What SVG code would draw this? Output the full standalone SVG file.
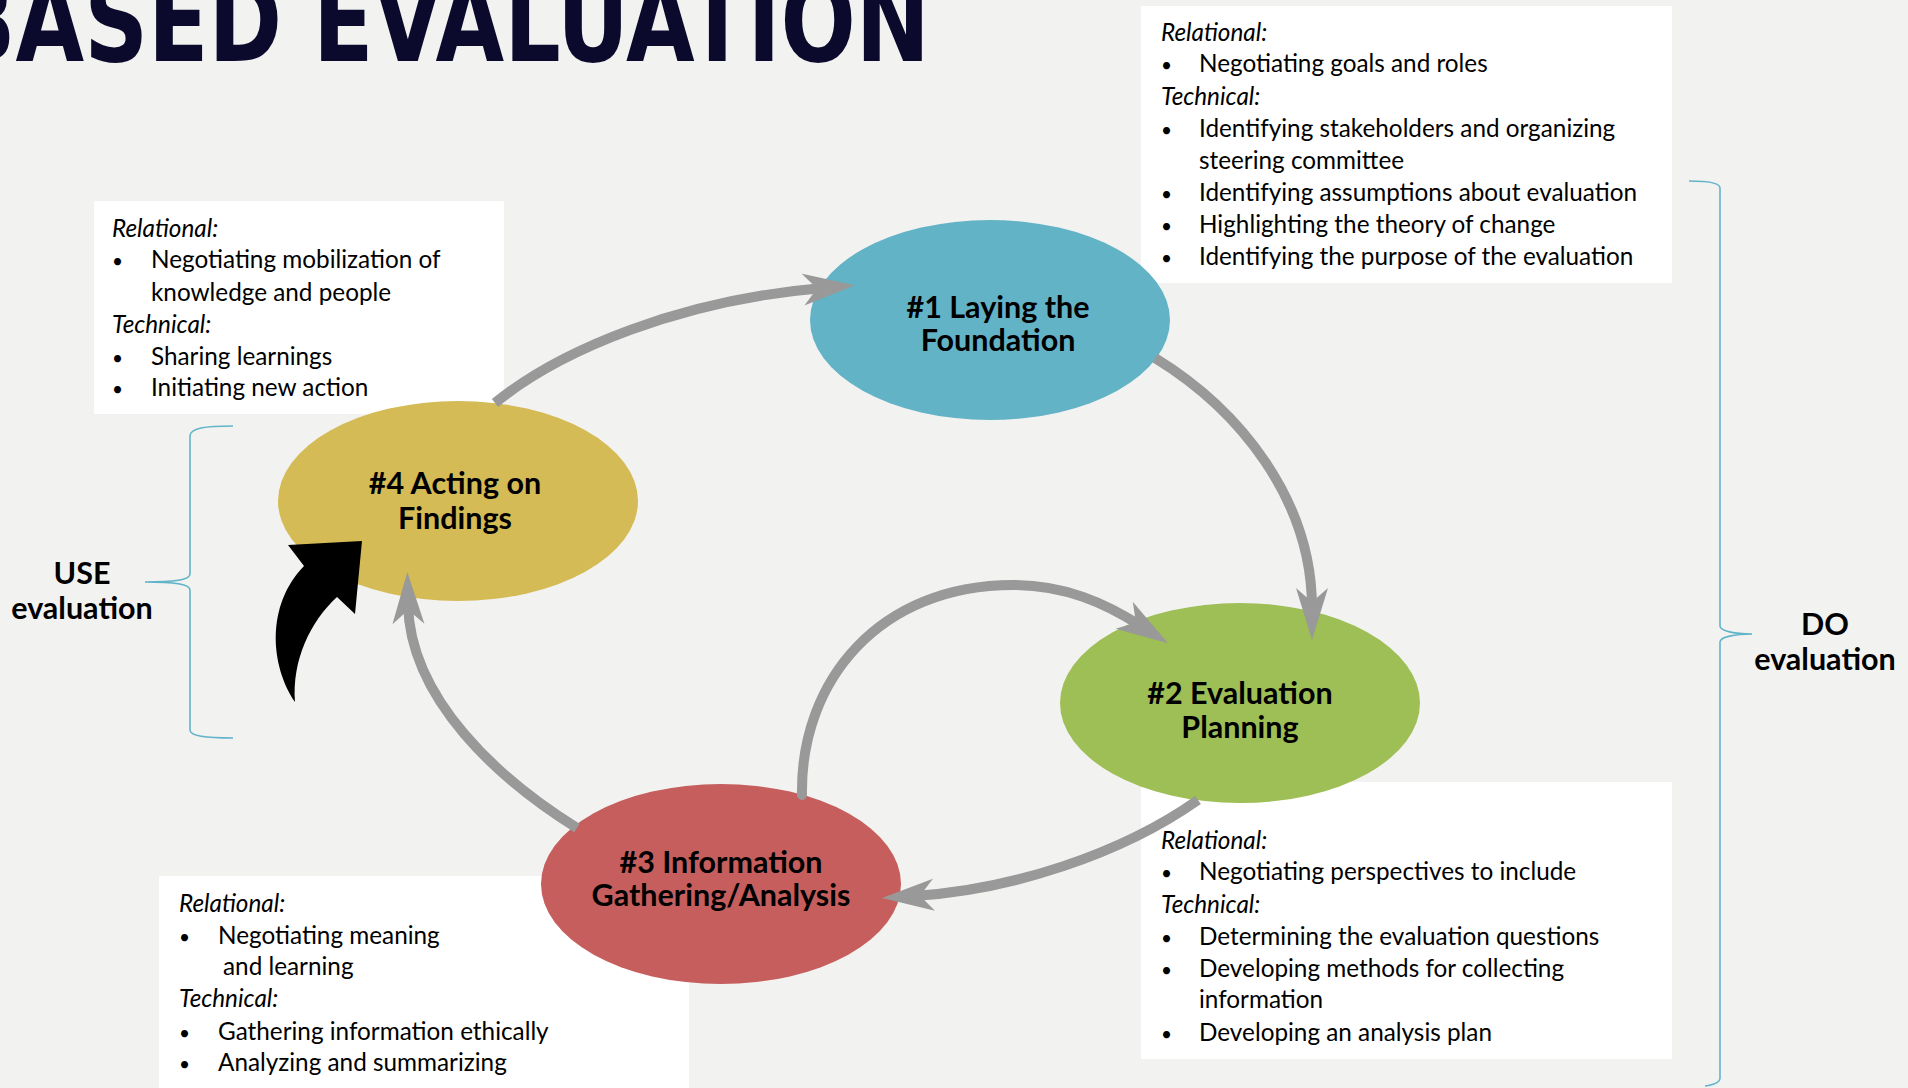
<svg xmlns="http://www.w3.org/2000/svg" width="1908" height="1088" viewBox="0 0 1908 1088">
<defs>
<style>
.bg{fill:#f2f2f1}
.box{fill:#ffffff}
.t{font-family:Lato,"Liberation Sans",sans-serif;font-size:24.3px;fill:#000}
.b{font-size:19px}
.h{font-style:italic}
.lbl{font-family:Lato,"Liberation Sans",sans-serif;font-size:30.5px;font-weight:bold;fill:#000;text-anchor:middle}
.conn{fill:none;stroke:#999999;stroke-width:10}
.brace{fill:none;stroke:#62b4c9;stroke-width:1.6}
.title{font-family:"Liberation Sans Narrow","DejaVu Sans Condensed",sans-serif;font-weight:bold;font-size:114px;fill:#0b0a2d}
</style>
<marker id="ah" markerUnits="userSpaceOnUse" viewBox="0 -18 54 36" markerWidth="54" markerHeight="36" refX="20" refY="0" orient="auto">
<path d="M0,-16 L52,0 L0,16 L14,0 Z" fill="#999999"/>
</marker>
</defs>
<rect class="bg" x="0" y="0" width="1908" height="1088"/>
<text class="title" x="-52" y="61" textLength="982" lengthAdjust="spacingAndGlyphs">BASED EVALUATION</text>

<g id="box-do-foundation">
<rect class="box" x="1141" y="6" width="531" height="277"/>
<text class="t h" x="1161" y="41">Relational:</text>
<text class="t b" x="1161" y="72">•</text><text class="t" x="1199" y="72">Negotiating goals and roles</text>
<text class="t h" x="1161" y="105">Technical:</text>
<text class="t b" x="1161" y="137">•</text><text class="t" x="1199" y="137">Identifying stakeholders and organizing</text>
<text class="t" x="1199" y="169">steering committee</text>
<text class="t b" x="1161" y="201">•</text><text class="t" x="1199" y="201">Identifying assumptions about evaluation</text>
<text class="t b" x="1161" y="233">•</text><text class="t" x="1199" y="233">Highlighting the theory of change</text>
<text class="t b" x="1161" y="265">•</text><text class="t" x="1199" y="265">Identifying the purpose of the evaluation</text>
</g>

<g id="box-use">
<rect class="box" x="94" y="201" width="410" height="213"/>
<text class="t h" x="112" y="237">Relational:</text>
<text class="t b" x="112" y="268">•</text><text class="t" x="151" y="268">Negotiating mobilization of</text>
<text class="t" x="151" y="301">knowledge and people</text>
<text class="t h" x="112" y="333">Technical:</text>
<text class="t b" x="112" y="365">•</text><text class="t" x="151" y="365">Sharing learnings</text>
<text class="t b" x="112" y="396">•</text><text class="t" x="151" y="396">Initiating new action</text>
</g>

<g id="box-planning">
<rect class="box" x="1141" y="782" width="531" height="277"/>
<text class="t h" x="1161" y="849">Relational:</text>
<text class="t b" x="1161" y="880">•</text><text class="t" x="1199" y="880">Negotiating perspectives to include</text>
<text class="t h" x="1161" y="913">Technical:</text>
<text class="t b" x="1161" y="945">•</text><text class="t" x="1199" y="945">Determining the evaluation questions</text>
<text class="t b" x="1161" y="977">•</text><text class="t" x="1199" y="977">Developing methods for collecting</text>
<text class="t" x="1199" y="1008">information</text>
<text class="t b" x="1161" y="1041">•</text><text class="t" x="1199" y="1041">Developing an analysis plan</text>
</g>

<g id="box-gathering">
<rect class="box" x="159" y="876" width="530" height="212"/>
<text class="t h" x="179" y="912">Relational:</text>
<text class="t b" x="179" y="944">•</text><text class="t" x="218" y="944">Negotiating meaning</text>
<text class="t" x="223" y="975">and learning</text>
<text class="t h" x="179" y="1007">Technical:</text>
<text class="t b" x="179" y="1040">•</text><text class="t" x="218" y="1040">Gathering information ethically</text>
<text class="t b" x="179" y="1071">•</text><text class="t" x="218" y="1071">Analyzing and summarizing</text>
</g>

<g id="node1">
<ellipse cx="990" cy="320" rx="180" ry="100" fill="#63b3c7"/>
<text class="lbl" x="998" y="318">#1 Laying the</text>
<text class="lbl" x="998" y="351">Foundation</text>
</g>
<g id="node2">
<ellipse cx="1240" cy="703" rx="180" ry="100" fill="#9ebe56"/>
<text class="lbl" x="1240" y="704">#2 Evaluation</text>
<text class="lbl" x="1240" y="738">Planning</text>
</g>
<g id="node3">
<ellipse cx="721" cy="884" rx="180" ry="100" fill="#c55e5c"/>
<text class="lbl" x="721" y="873">#3 Information</text>
<text class="lbl" x="721" y="906">Gathering/Analysis</text>
</g>
<g id="node4">
<ellipse cx="458" cy="501" rx="180" ry="100" fill="#d4bb55"/>
<text class="lbl" x="455" y="494">#4 Acting on</text>
<text class="lbl" x="455" y="529">Findings</text>
</g>

<g id="connectors">
<path class="conn" marker-end="url(#ah)" d="M495 403 C560 350 680 300 823 288"/>
<path class="conn" marker-end="url(#ah)" d="M1155 358 C1240 410 1312 500 1312 608"/>
<path class="conn" marker-end="url(#ah)" d="M1198 800 C1120 855 1010 890 914 896"/>
<path class="conn" marker-end="url(#ah)" d="M577 828 C500 780 410 700 408 604"/>
<path class="conn" stroke-linecap="round" marker-end="url(#ah)" d="M802 795 C800 680 880 585 1013 585 C1065 585 1105 603 1141 626"/>
<path id="black-arrow" d="M362 541 L355 614 L337 597 C310 622 292 660 295 702 C270 665 266 605 304 566 L288 545 Z" fill="#000"/>
</g>

<g id="use-evaluation">
<path class="brace" d="M233 426 C205 426 190 428 190 436 L190 574 C190 580 175 582 145 582 C175 582 190 584 190 590 L190 730 C190 736 205 738 233 738"/>
<text class="lbl" x="82" y="584">USE</text>
<text class="lbl" x="82" y="619">evaluation</text>
</g>
<g id="do-evaluation">
<path class="brace" d="M1689 181 C1710 181 1720 183 1720 188 L1720 626 C1720 631 1735 634 1752 634 C1735 634 1720 637 1720 642 L1720 1078 C1720 1083 1712 1085 1705 1086"/>
<text class="lbl" x="1825" y="635">DO</text>
<text class="lbl" x="1825" y="670">evaluation</text>
</g>
</svg>
